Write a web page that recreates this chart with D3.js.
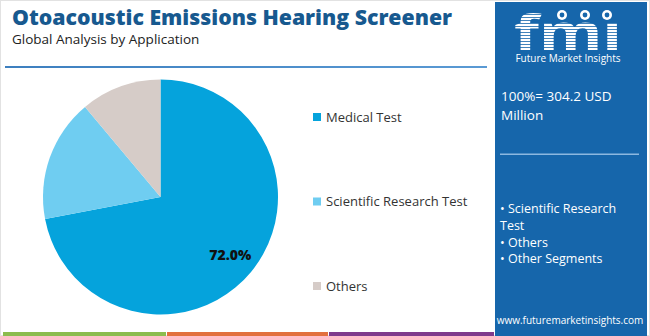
<!DOCTYPE html>
<html>
<head>
<meta charset="utf-8">
<script src="https://cdn.jsdelivr.net/npm/d3@7"></script>
<style>
  html, body { margin: 0; padding: 0; background: #fff; }
  svg { display: block; }
  text { font-family: "Open Sans", "DejaVu Sans", sans-serif; }
</style>
</head>
<body>
<svg id="chart" width="650" height="336"></svg>
<script>
// Application split of the otoacoustic emissions hearing screener market
const categories = ["Medical Test", "Scientific Research Test", "Others"];
const shares = [72.0, 16.9, 11.1];
const sliceColors = ["#05a3dc", "#6fcdf1", "#d6ccc8"];
const labelled = ["72.0%", null, null];

const marketTotal = "100%= 304.2 USD";
const marketUnit = "Million";
const panelItems = ["• Scientific Research", "Test", "• Others", "• Other Segments"];

const W = 650, H = 336;
const svg = d3.select("#chart");

// outer frame
svg.append("rect").attr("x", 0.5).attr("y", 0.5).attr("width", W - 1).attr("height", H - 1)
  .attr("fill", "#fff").attr("stroke", "#e2e2e2");

// heading
svg.append("text").attr("x", 12).attr("y", 25)
  .attr("font-size", 21).attr("font-weight", 800).attr("fill", "#17598f")
  .attr("textLength", 440).attr("lengthAdjust", "spacingAndGlyphs")
  .text("Otoacoustic Emissions Hearing Screener");
svg.append("text").attr("x", 12).attr("y", 44)
  .attr("font-size", 13.5).attr("fill", "#222")
  .text("Global Analysis by Application");

// divider under heading
const grad = svg.append("defs").append("linearGradient").attr("id", "rule");
grad.append("stop").attr("offset", "0%").attr("stop-color", "#3d7fbf");
grad.append("stop").attr("offset", "100%").attr("stop-color", "#5a9ad4");
svg.append("rect").attr("x", 5).attr("y", 66).attr("width", 482).attr("height", 2)
  .attr("fill", "url(#rule)");

// pie
const cx = 160.5, cy = 197, r = 117.5;
const pie = d3.pie().sort(null).value(d => d)(shares);
const arc = d3.arc().innerRadius(0).outerRadius(r);
const labelArc = d3.arc().innerRadius(r * 0.77).outerRadius(r * 0.77);
const g = svg.append("g").attr("transform", `translate(${cx},${cy})`);
g.selectAll("path").data(pie).join("path")
  .attr("d", arc).attr("fill", (d, i) => sliceColors[i]);
g.selectAll("text.val").data(pie.filter((d, i) => labelled[i])).join("text")
  .attr("class", "val")
  .attr("transform", d => `translate(${labelArc.centroid(d)})`)
  .attr("text-anchor", "middle").attr("dy", "0.35em")
  .attr("font-size", 14).attr("font-weight", 800).attr("fill", "#111")
  .text(d => labelled[d.index]);

// legend
const legendY = d3.scalePoint().domain(categories).range([117, 286]);
const lg = svg.append("g");
categories.forEach((c, i) => {
  const y = legendY(c);
  lg.append("rect").attr("x", 313).attr("y", y - 4).attr("width", 8).attr("height", 8)
    .attr("fill", sliceColors[i]);
  lg.append("text").attr("x", 326).attr("y", y).attr("dy", "0.36em")
    .attr("font-size", 13).attr("fill", "#333").text(c);
});

// side panel
svg.append("rect").attr("x", 495).attr("y", 2).attr("width", 152).attr("height", H - 2)
  .attr("fill", "#1666ab");

// logo
const logo = svg.append("g");
const clip = svg.select("defs").append("clipPath").attr("id", "logoClip");
clip.append("text").attr("x", 568).attr("y", 50).attr("text-anchor", "middle")
  .attr("font-family", "DejaVu Serif").attr("font-weight", 700).attr("font-size", 48)
  .attr("textLength", 108).attr("lengthAdjust", "spacingAndGlyphs").text("fmı");
logo.append("g").attr("clip-path", "url(#logoClip)")
  .selectAll("rect").data(d3.range(12, 52, 3)).join("rect")
  .attr("x", 510).attr("y", d => d).attr("width", 120).attr("height", 2.2).attr("fill", "#fff");
[[562, 15], [585, 15], [607, 15]].forEach(([x, y]) => {
  logo.append("circle").attr("cx", x).attr("cy", y).attr("r", 5).attr("fill", "#fff");
  logo.append("circle").attr("cx", x).attr("cy", y).attr("r", 2.4).attr("fill", "#1666ab");
});
logo.append("text").attr("x", 568).attr("y", 62).attr("text-anchor", "middle")
  .attr("font-size", 10).attr("fill", "#fff").text("Future Market Insights");

svg.append("text").attr("x", 501).attr("y", 101).attr("font-size", 13.5).attr("fill", "#fff").text(marketTotal);
svg.append("text").attr("x", 501).attr("y", 120).attr("font-size", 13.5).attr("fill", "#fff").text(marketUnit);
svg.append("rect").attr("x", 500).attr("y", 153.5).attr("width", 139).attr("height", 1.5).attr("fill", "#8cb8e0");

panelItems.forEach((t, i) => {
  svg.append("text").attr("x", 500).attr("y", 213 + i * 16.8)
    .attr("font-size", 12.5).attr("fill", "#fff").text(t);
});
svg.append("text").attr("x", 570).attr("y", 324).attr("text-anchor", "middle")
  .attr("font-size", 10).attr("fill", "#fff").text("www.futuremarketinsights.com");

// bottom colour strip
const strips = [[3, 166, "#8cbc4e"], [167, 328, "#e2703e"], [329, 494, "#7f3a8c"]];
strips.forEach(([x0, x1, c]) => {
  svg.append("rect").attr("x", x0).attr("y", 332).attr("width", x1 - x0).attr("height", 4).attr("fill", c);
});
</script>
</body>
</html>
